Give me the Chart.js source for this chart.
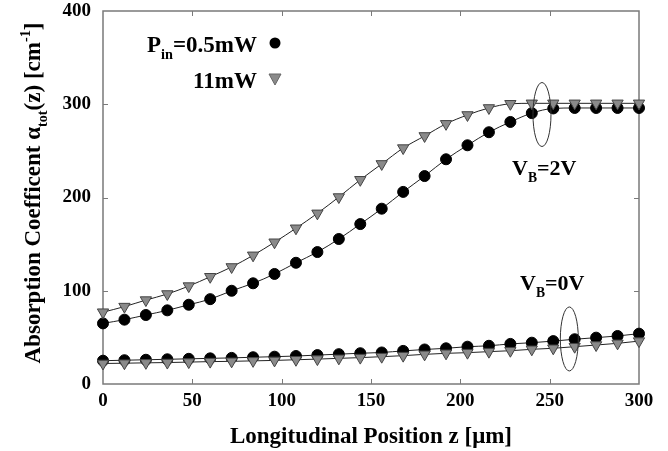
<!DOCTYPE html>
<html>
<head>
<meta charset="utf-8">
<script src="https://cdn.jsdelivr.net/npm/chart.js@4.4.0/dist/chart.umd.min.js"></script>
<style>
  html, body { margin: 0; padding: 0; background: #fff; }
</style>
</head>
<body>
<canvas id="myChart" width="668" height="451"></canvas>
<script>
// longitudinal position z [um]
const positions = [0, 12, 24, 36, 48, 60, 72, 84, 96, 108, 120, 132, 144, 156, 168, 180, 192, 204, 216, 228, 240, 252, 264, 276, 288, 300];

// absorption coefficient [cm^-1]
const vb2Low  = [65, 69, 74, 79, 85, 91, 100, 108, 118, 130, 141.5, 155.5, 171.5, 188, 206, 223, 241, 256, 270, 281, 290.5, 295.5, 296, 296, 296, 296];
const vb2High = [77, 83, 90, 96.5, 105, 115, 125.5, 138, 152, 167, 183, 200.5, 219, 236, 253, 266, 279, 288.5, 296, 300.5, 301, 301, 301, 301, 301, 301];
const vb0Low  = [25, 25.5, 26, 26.5, 27, 27.5, 28, 28.7, 29.3, 30, 31, 32, 33, 33.8, 35.5, 37, 38.3, 40, 41, 43, 44.3, 46, 48, 49.7, 51.5, 54];
const vb0High = [22, 22.3, 22.7, 23, 23.5, 24, 24.3, 24.8, 25.3, 26, 26.7, 27.5, 28.3, 29.3, 30.4, 31.8, 32.9, 33.6, 34.7, 35.7, 37.2, 38.3, 40, 41.8, 43.6, 46];

const xTicks = [0, 50, 100, 150, 200, 250, 300];
const yTicks = [0, 100, 200, 300, 400];

const serif = '"Liberation Serif", "Times New Roman", serif';

function pts(ys) {
    return positions.map((x, i) => ({ x: x, y: ys[i] }));
}

function circleSet(label, ys) {
    return {
        label: label,
        data: pts(ys),
        borderColor: '#222',
        borderWidth: 1,
        pointStyle: 'circle',
        pointRadius: 5.5,
        pointBackgroundColor: '#000',
        pointBorderColor: '#000',
        pointBorderWidth: 1,
        cubicInterpolationMode: 'monotone',
        clip: false
    };
}

function triSet(label, ys) {
    return {
        label: label,
        data: pts(ys),
        borderColor: '#222',
        borderWidth: 1,
        pointStyle: 'triangle',
        pointRotation: 180,
        pointRadius: 6.5,
        pointBackgroundColor: '#8a8a8a',
        pointBorderColor: '#444',
        pointBorderWidth: 1,
        cubicInterpolationMode: 'monotone',
        clip: false
    };
}

// draw text with sub/superscript parts
function richWidth(ctx, parts, size) {
    let w = 0;
    parts.forEach(p => {
        const s = p.m ? size * 0.62 : size;
        ctx.font = 'bold ' + s + 'px ' + serif;
        w += ctx.measureText(p.t).width;
    });
    return w;
}

function drawRich(ctx, parts, x, y, size) {
    let cx = x;
    parts.forEach(p => {
        const s = p.m ? size * 0.62 : size;
        ctx.font = 'bold ' + s + 'px ' + serif;
        let dy = 0;
        if (p.m === 'sub') dy = size * 0.3;
        if (p.m === 'sup') dy = -size * 0.42;
        ctx.fillText(p.t, cx, y + dy);
        cx += ctx.measureText(p.t).width;
    });
}

const framePlugin = {
    id: 'frame',
    beforeDatasetsDraw(chart) {
        const ctx = chart.ctx;
        const a = chart.chartArea;
        const sx = chart.scales.x, sy = chart.scales.y;
        ctx.save();
        ctx.strokeStyle = '#7a7a7a';
        ctx.lineWidth = 1.5;
        ctx.strokeRect(a.left, a.top, a.right - a.left, a.bottom - a.top);
        ctx.lineWidth = 1;
        const t = 5;
        xTicks.slice(1, -1).forEach(v => {
            const px = Math.round(sx.getPixelForValue(v)) + 0.5;
            ctx.beginPath();
            ctx.moveTo(px, a.bottom); ctx.lineTo(px, a.bottom - t);
            ctx.moveTo(px, a.top); ctx.lineTo(px, a.top + t);
            ctx.stroke();
        });
        yTicks.slice(1, -1).forEach(v => {
            const py = Math.round(sy.getPixelForValue(v)) + 0.5;
            ctx.beginPath();
            ctx.moveTo(a.left, py); ctx.lineTo(a.left + t, py);
            ctx.moveTo(a.right, py); ctx.lineTo(a.right - t, py);
            ctx.stroke();
        });
        ctx.restore();
    },
    afterDraw(chart) {
        const ctx = chart.ctx;
        const sx = chart.scales.x, sy = chart.scales.y;
        ctx.save();
        ctx.fillStyle = '#000';
        ctx.textBaseline = 'alphabetic';
        ctx.textAlign = 'left';

        // axis titles
        const xt = [{ t: 'Longitudinal Position z [\u03bcm]' }];
        drawRich(ctx, xt, 371 - richWidth(ctx, xt, 23) / 2, 443, 23);

        const yt = [{ t: 'Absorption Coefficent \u03b1' }, { t: 'tot', m: 'sub' }, { t: '(z) [cm' }, { t: '-1', m: 'sup' }, { t: ']' }];
        ctx.save();
        ctx.translate(40, 193);
        ctx.rotate(-Math.PI / 2);
        drawRich(ctx, yt, -richWidth(ctx, yt, 23) / 2, 0, 23);
        ctx.restore();

        // legend
        const l1 = [{ t: 'P' }, { t: 'in', m: 'sub' }, { t: '=0.5mW' }];
        drawRich(ctx, l1, 257 - richWidth(ctx, l1, 23), 52, 23);
        const l2 = [{ t: '11mW' }];
        drawRich(ctx, l2, 257 - richWidth(ctx, l2, 23), 88, 23);
        ctx.beginPath();
        ctx.arc(275, 43, 5.5, 0, Math.PI * 2);
        ctx.fill();
        ctx.beginPath();
        ctx.moveTo(269, 74); ctx.lineTo(281, 74); ctx.lineTo(275, 85); ctx.closePath();
        ctx.fillStyle = '#8a8a8a';
        ctx.fill();
        ctx.strokeStyle = '#666';
        ctx.stroke();
        ctx.fillStyle = '#000';

        // bias labels
        drawRich(ctx, [{ t: 'V' }, { t: 'B', m: 'sub' }, { t: '=2V' }], 512, 175, 22);
        drawRich(ctx, [{ t: 'V' }, { t: 'B', m: 'sub' }, { t: '=0V' }], 520, 290, 22);

        // ellipses grouping the curves
        ctx.strokeStyle = '#333';
        ctx.lineWidth = 1;
        [[245.7, 289], [261, 48.3]].forEach(c => {
            ctx.beginPath();
            ctx.ellipse(sx.getPixelForValue(c[0]), sy.getPixelForValue(c[1]), 9, 32, 0, 0, Math.PI * 2);
            ctx.stroke();
        });
        ctx.restore();
    }
};

const ctx = document.getElementById('myChart').getContext('2d');
const chart = new Chart(ctx, {
    type: 'line',
    data: {
        datasets: [
            triSet('11mW, VB=0V', vb0High),
            circleSet('0.5mW, VB=0V', vb0Low),
            triSet('11mW, VB=2V', vb2High),
            circleSet('0.5mW, VB=2V', vb2Low)
        ]
    },
    options: {
        responsive: false,
        animation: false,
        layout: { padding: { top: 11, right: 29, left: 0, bottom: 0 } },
        plugins: { legend: { display: false }, tooltip: { enabled: false } },
        scales: {
            x: {
                type: 'linear',
                min: 0, max: 300,
                afterBuildTicks: s => { s.ticks = xTicks.map(v => ({ value: v })); },
                ticks: { color: '#000', padding: 6, maxRotation: 0, font: { family: serif, size: 19, weight: 'bold' } },
                grid: { display: false, tickLength: 0 },
                border: { display: false },
                afterFit: s => { s.height = 67; s.paddingLeft = 0; s.paddingRight = 0; }
            },
            y: {
                min: 0, max: 400,
                afterBuildTicks: s => { s.ticks = yTicks.map(v => ({ value: v })); },
                ticks: { color: '#000', padding: 12, font: { family: serif, size: 19, weight: 'bold' } },
                grid: { display: false, tickLength: 0 },
                border: { display: false },
                afterFit: s => { s.width = 103; s.paddingTop = 0; s.paddingBottom = 0; }
            }
        }
    },
    plugins: [framePlugin]
});
</script>
</body>
</html>
